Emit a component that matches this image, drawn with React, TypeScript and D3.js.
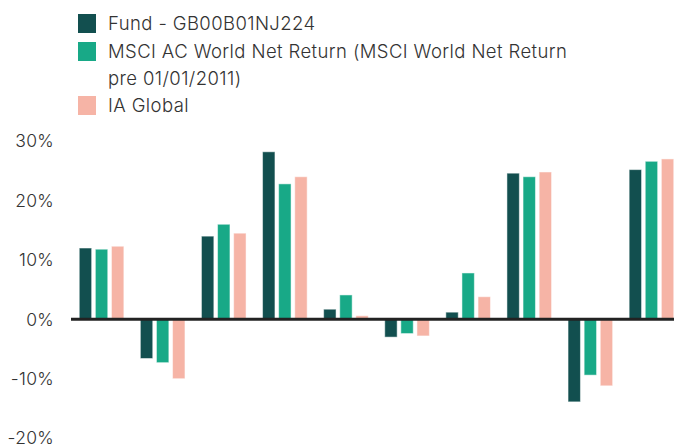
import { FC, useEffect, useRef } from 'react';
import * as d3 from 'd3';

// dados (retornos anuais, %)
const periods = ['P1', 'P2', 'P3', 'P4', 'P5', 'P6', 'P7', 'P8', 'P9', 'P10'];
const seriesNames = [
  'Fund - GB00B01NJ224',
  'MSCI AC World Net Return (MSCI World Net Return pre 01/01/2011)',
  'IA Global',
];
const fundValues = [12.0, -6.6, 14.0, 28.2, 1.7, -3.0, 1.2, 24.6, -13.9, 25.2];
const msciValues = [11.8, -7.3, 16.0, 22.8, 4.1, -2.4, 7.8, 24.0, -9.4, 26.6];
const iaValues = [12.3, -10.0, 14.5, 24.0, 0.6, -2.8, 3.8, 24.8, -11.2, 27.0];
const yTicks = [-20, -10, 0, 10, 20, 30];
const colors = ['#124f4f', '#18a987', '#f6b4a6'];

const WIDTH = 674;
const HEIGHT = 445;

export const Chart: FC = () => {
  const ref = useRef<SVGSVGElement | null>(null);

  useEffect(() => {
    if (!ref.current) return;
    const svg = d3.select(ref.current);
    svg.selectAll('*').remove();

    const font = 'Inter, "Noto Sans", sans-serif';
    const allValues = [fundValues, msciValues, iaValues];

    // legenda
    const legendRows = [
      { lines: ['Fund - GB00B01NJ224'], y: 14 },
      { lines: ['MSCI AC World Net Return (MSCI World Net Return', 'pre 01/01/2011)'], y: 42 },
      { lines: ['IA Global'], y: 96 },
    ];
    const legend = svg.append('g');
    legendRows.forEach((row, i) => {
      legend
        .append('rect')
        .attr('x', 78)
        .attr('y', row.y)
        .attr('width', 18)
        .attr('height', 19)
        .attr('fill', colors[i]);
      row.lines.forEach((line, j) => {
        legend
          .append('text')
          .attr('x', 108)
          .attr('y', row.y + 16 + j * 27)
          .attr('font-family', font)
          .attr('font-weight', 300)
          .attr('font-size', 18.5)
          .attr('letter-spacing', 0.4)
          .attr('fill', '#333')
          .text(line);
      });
    });

    const x0 = d3
      .scaleBand()
      .domain(periods)
      .range([71, 682])
      .paddingInner(0.27)
      .paddingOuter(0.135);

    const x1 = d3
      .scaleBand()
      .domain(seriesNames)
      .range([0, x0.bandwidth()])
      .paddingInner(0.23)
      .paddingOuter(0);

    const y = d3.scaleLinear().domain([-20, 30]).range([438.1, 141.1]);

    // eixo y (só rótulos)
    svg
      .append('g')
      .selectAll('text')
      .data(yTicks)
      .enter()
      .append('text')
      .attr('x', 54)
      .attr('y', (d) => y(d))
      .attr('dy', '0.36em')
      .attr('text-anchor', 'end')
      .attr('font-family', font)
      .attr('font-weight', 300)
      .attr('font-size', 17.5)
      .attr('letter-spacing', 0.3)
      .attr('fill', '#333')
      .text((d) => `${d}%`);

    // barras
    const groups = svg
      .append('g')
      .selectAll('g')
      .data(periods)
      .enter()
      .append('g')
      .attr('transform', (p) => `translate(${x0(p)},0)`);

    groups
      .selectAll('rect')
      .data((_p, i) => seriesNames.map((s, k) => ({ s, k, v: allValues[k][i] })))
      .enter()
      .append('rect')
      .attr('x', (d) => x1(d.s)!)
      .attr('y', (d) => y(Math.max(0, d.v)))
      .attr('width', x1.bandwidth())
      .attr('height', (d) => Math.abs(y(d.v) - y(0)))
      .attr('fill', (d) => colors[d.k])
      .attr('stroke', '#fff')
      .attr('stroke-opacity', 0.5)
      .attr('stroke-width', 1);

    // linha do zero
    svg
      .append('line')
      .attr('x1', 71)
      .attr('x2', 682)
      .attr('y1', y(0))
      .attr('y2', y(0))
      .attr('stroke', '#222')
      .attr('stroke-width', 3);
  }, []);

  return (
    <svg
      ref={ref}
      width={WIDTH}
      height={HEIGHT}
      style={{ position: 'absolute', left: 0, top: 0, background: '#fff' }}
    />
  );
};

export default function App() {
  return <Chart />;
}
